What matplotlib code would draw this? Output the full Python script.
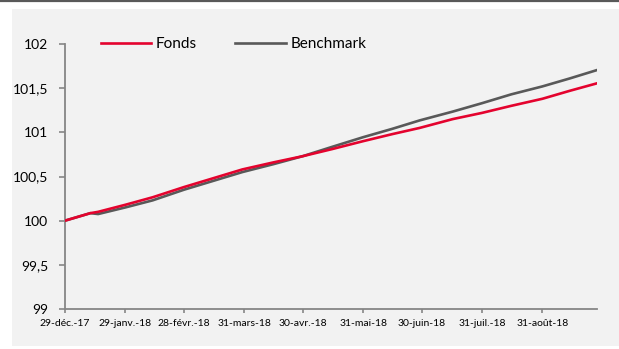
import matplotlib
matplotlib.use('Agg')
import matplotlib.pyplot as plt
from matplotlib.patches import Rectangle
from matplotlib.lines import Line2D
from datetime import datetime

plt.rcParams['font.family'] = ['Lato', 'DejaVu Sans']

# values
dates = ['2017-12-29', '2018-01-11', '2018-01-15', '2018-01-29', '2018-02-12',
         '2018-02-28', '2018-03-15', '2018-03-30', '2018-04-15', '2018-04-30',
         '2018-05-15', '2018-05-31', '2018-06-15', '2018-06-29', '2018-07-16',
         '2018-07-31', '2018-08-15', '2018-08-31', '2018-09-14', '2018-09-28']
fonds = [100.00, 100.085, 100.10, 100.18, 100.265,
         100.38, 100.48, 100.58, 100.66, 100.73,
         100.81, 100.90, 100.98, 101.05, 101.15,
         101.22, 101.30, 101.38, 101.47, 101.555]
benchmark = [100.00, 100.085, 100.075, 100.15, 100.23,
             100.35, 100.45, 100.55, 100.64, 100.73,
             100.835, 100.945, 101.04, 101.135, 101.235,
             101.33, 101.43, 101.52, 101.61, 101.705]

tick_dates = ['2017-12-29', '2018-01-29', '2018-02-28', '2018-03-31', '2018-04-30',
              '2018-05-31', '2018-06-30', '2018-07-31', '2018-08-31']
tick_labels = ['29-déc.-17', '29-janv.-18', '28-févr.-18', '31-mars-18', '30-avr.-18',
               '31-mai-18', '30-juin-18', '31-juil.-18', '31-août-18']
y_ticks = [99, 99.5, 100, 100.5, 101, 101.5, 102]
y_labels = ['99', '99,5', '100', '100,5', '101', '101,5', '102']

W, H = 619, 349
fig = plt.figure(figsize=(W / 100, H / 100), dpi=100)
fig.patch.set_facecolor('white')

# grey panel and top rule
fig.patches.append(Rectangle((12 / W, 3 / H), 1 - 12 / W, 337 / H,
                             transform=fig.transFigure, facecolor='#f2f2f2',
                             edgecolor='none', zorder=-10))
fig.lines.append(Line2D([0, 1], [1 - 1 / H, 1 - 1 / H], transform=fig.transFigure,
                        color='#595959', lw=1.6))

ax = fig.add_axes([65 / W, 1 - 309 / H, 532 / W, 265 / H])
ax.set_facecolor('none')

d = [datetime.strptime(s, '%Y-%m-%d') for s in dates]
ax.plot(d, fonds, color='#e4032e', lw=1.9, label='Fonds', zorder=3)
ax.plot(d, benchmark, color='#595959', lw=1.9, label='Benchmark', zorder=2)

ax.set_xlim(datetime(2017, 12, 29), datetime(2018, 9, 28))
ax.set_ylim(99, 102)
ax.set_xticks([datetime.strptime(s, '%Y-%m-%d') for s in tick_dates])
ax.set_xticklabels(tick_labels, fontsize=7.5)
ax.set_yticks(y_ticks)
ax.set_yticklabels(y_labels, fontsize=10)

for s in ['top', 'right']:
    ax.spines[s].set_visible(False)
for s in ['left', 'bottom']:
    ax.spines[s].set_color('#868686')
    ax.spines[s].set_linewidth(1.3)
ax.tick_params(axis='y', length=4, width=1.2, color='#868686', pad=8)
ax.tick_params(axis='x', length=3, width=1.2, color='#868686', pad=4)

leg = ax.legend(loc='upper left', bbox_to_anchor=(101 / W, 1 - 37 / H),
                bbox_transform=fig.transFigure, ncol=2, frameon=False,
                fontsize=11, handlelength=3.3, handletextpad=0.3,
                columnspacing=2.5, borderaxespad=0, borderpad=0)

fig.savefig('out.png', dpi=100)
